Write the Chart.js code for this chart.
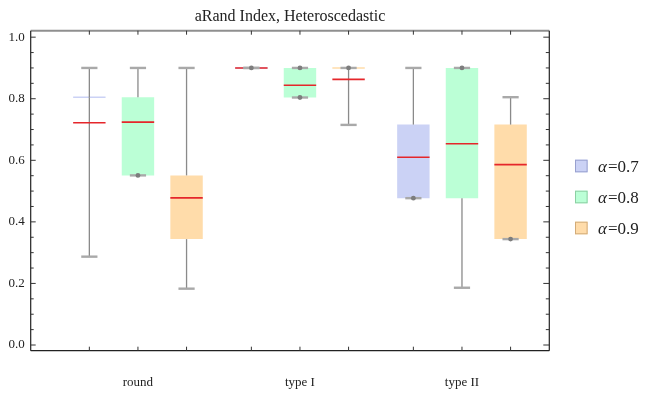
<!DOCTYPE html>
<html>
<head>
<meta charset="utf-8">
<script src="https://cdn.jsdelivr.net/npm/chart.js@4.4.1/dist/chart.umd.min.js"></script>
<style>
  html, body { margin: 0; padding: 0; background: #fff; }
  #wrap { width: 649px; height: 394px; position: relative; }
</style>
</head>
<body>
<div id="wrap"><canvas id="chart" width="649" height="394"></canvas></div>
<script>
const titleText = 'aRand Index, Heteroscedastic';
const categories = ['round', 'type I', 'type II'];
const seriesValues = ['0.7', '0.8', '0.9'];   // legend reads "α=0.7" etc.

// one entry per category: [min, q1, median, q3, max]
const alpha07 = [[0.287, 0.805, 0.722, 0.805, 0.900], [0.900, 0.900, 0.900, 0.900, 0.900], [0.477, 0.477, 0.610, 0.716, 0.900]];
const alpha08 = [[0.551, 0.551, 0.724, 0.805, 0.900], [0.804, 0.804, 0.844, 0.900, 0.900], [0.186, 0.477, 0.654, 0.900, 0.900]];
const alpha09 = [[0.183, 0.344, 0.478, 0.551, 0.900], [0.715, 0.900, 0.863, 0.900, 0.900], [0.344, 0.344, 0.586, 0.716, 0.805]];

const yTicks = [0, 0.2, 0.4, 0.6, 0.8, 1.0];
const yMinorTicks = [0.05, 0.1, 0.15, 0.25, 0.3, 0.35, 0.45, 0.5, 0.55, 0.65, 0.7, 0.75, 0.85, 0.9, 0.95];

const allSeries = [alpha07, alpha08, alpha09];
const fillColors = ['#cbd2f5', '#bbffd6', '#ffdcaa'];
const edgeColors = ['#98a0cf', '#8ccfa3', '#d2ab78'];
const serif = "'Liberation Serif', 'Times New Roman', serif";

const datasets = allSeries.map((s, i) => ({
  label: 'α=' + seriesValues[i],
  data: s.map((v, j) => ({ x: j + 1, y: [v[1], v[3]] })),
  backgroundColor: fillColors[i],
  borderWidth: 0,
  categoryPercentage: 0.9,
  barPercentage: 0.667
}));

function line(ctx, x1, y1, x2, y2) {
  ctx.beginPath();
  ctx.moveTo(x1, y1);
  ctx.lineTo(x2, y2);
  ctx.stroke();
}

// whiskers, medians, caps and the small dots where a whisker has zero length
const boxWhisker = {
  id: 'boxWhisker',
  afterDatasetsDraw(chart) {
    const ctx = chart.ctx;
    const yScale = chart.scales.y;
    const py = v => yScale.getPixelForValue(v);
    ctx.save();
    allSeries.forEach((s, i) => {
      const meta = chart.getDatasetMeta(i);
      meta.data.forEach((bar, j) => {
        const [mn, q1, md, q3, mx] = s[j];
        const cx = bar.x, hw = bar.width / 2;

        if (q1 === q3) {
          ctx.strokeStyle = fillColors[i];
          ctx.lineWidth = 1.4;
          line(ctx, cx - hw, py(q3), cx + hw, py(q3));
        }
        ctx.strokeStyle = '#8a8a8a';
        ctx.lineWidth = 1.3;
        if (mx > q3) line(ctx, cx, py(q3), cx, py(mx));
        if (mn < q1) line(ctx, cx, py(q1), cx, py(mn));

        ctx.strokeStyle = '#e5262b';
        ctx.lineWidth = 1.6;
        line(ctx, cx - hw, py(md), cx + hw, py(md));

        ctx.strokeStyle = '#a9a9a9';
        ctx.lineWidth = 2.4;
        line(ctx, cx - hw / 2, py(mx), cx + hw / 2, py(mx));
        line(ctx, cx - hw / 2, py(mn), cx + hw / 2, py(mn));

        ctx.fillStyle = '#7d7d7d';
        const dots = [];
        if (mx === q3) dots.push(mx);
        if (mn === q1 && mn !== mx) dots.push(mn);
        dots.forEach(v => {
          ctx.beginPath();
          ctx.arc(cx, py(v), 2.4, 0, Math.PI * 2);
          ctx.fill();
        });
      });
    });
    ctx.restore();
  }
};

// Mathematica-style frame with inward ticks, title and legend
const frame = {
  id: 'frame',
  afterDraw(chart) {
    const ctx = chart.ctx;
    const a = chart.chartArea;
    const yScale = chart.scales.y;
    ctx.save();

    ctx.strokeStyle = '#8f8f8f';
    ctx.lineWidth = 2;
    line(ctx, a.left, a.top, a.right, a.top);
    ctx.strokeStyle = '#222';
    ctx.lineWidth = 1.2;
    line(ctx, a.left, a.top, a.left, a.bottom);
    line(ctx, a.left, a.bottom, a.right, a.bottom);
    line(ctx, a.right, a.top, a.right, a.bottom);

    ctx.lineWidth = 1;
    ctx.strokeStyle = '#333';
    yTicks.forEach(v => {
      const yy = yScale.getPixelForValue(v);
      line(ctx, a.left, yy, a.left + 5, yy);
      line(ctx, a.right, yy, a.right - 6, yy);
    });
    yMinorTicks.forEach(v => {
      const yy = yScale.getPixelForValue(v);
      line(ctx, a.left, yy, a.left + 3, yy);
      line(ctx, a.right, yy, a.right - 3.5, yy);
    });
    allSeries.forEach((s, i) => {
      chart.getDatasetMeta(i).data.forEach(bar => {
        line(ctx, bar.x, a.bottom, bar.x, a.bottom - 4);
        line(ctx, bar.x, a.top, bar.x, a.top + 4);
      });
    });

    ctx.fillStyle = '#222';
    ctx.font = '16px ' + serif;
    ctx.textAlign = 'center';
    ctx.textBaseline = 'alphabetic';
    ctx.fillText(titleText, (a.left + a.right) / 2, 20.5);

    ctx.textAlign = 'left';
    const rowY = [166, 197, 228];
    seriesValues.forEach((val, i) => {
      const cy = rowY[i];
      ctx.fillStyle = fillColors[i];
      ctx.fillRect(575, cy - 6.3, 12.6, 12.6);
      ctx.strokeStyle = edgeColors[i];
      ctx.lineWidth = 1;
      ctx.strokeRect(575.5, cy - 5.8, 11.6, 11.6);
      ctx.fillStyle = '#222';
      ctx.font = 'italic 17px ' + serif;
      ctx.fillText('α', 598, cy + 6);
      const w = ctx.measureText('α').width;
      ctx.font = '17px ' + serif;
      ctx.fillText('=' + val, 598 + w + 1, cy + 6);
    });
    ctx.restore();
  }
};

new Chart(document.getElementById('chart'), {
  type: 'bar',
  data: { datasets },
  options: {
    responsive: false,
    animation: false,
    layout: { padding: { left: 0, right: 99.7, top: 30.7, bottom: 0 } },
    plugins: {
      legend: { display: false },
      title: { display: false },
      tooltip: { enabled: false }
    },
    scales: {
      x: {
        type: 'linear',
        min: 0.338,
        max: 3.539,
        offset: false,
        grid: { display: false, drawTicks: false },
        border: { display: false },
        afterBuildTicks: scale => { scale.ticks = categories.map((c, i) => ({ value: i + 1 })); },
        afterFit: scale => { scale.height = 43.3; },
        ticks: {
          padding: 24,
          color: '#222',
          font: { family: serif, size: 13 },
          maxRotation: 0,
          callback: v => categories[v - 1]
        }
      },
      y: {
        type: 'linear',
        min: -0.0185,
        max: 1.021,
        grid: { display: false, drawTicks: false },
        border: { display: false },
        afterBuildTicks: scale => { scale.ticks = yTicks.map(v => ({ value: v })); },
        afterFit: scale => { scale.width = 30.7; },
        ticks: {
          padding: 6,
          color: '#222',
          font: { family: serif, size: 13 },
          callback: v => v.toFixed(1)
        }
      }
    }
  },
  plugins: [boxWhisker, frame]
});
</script>
</body>
</html>
